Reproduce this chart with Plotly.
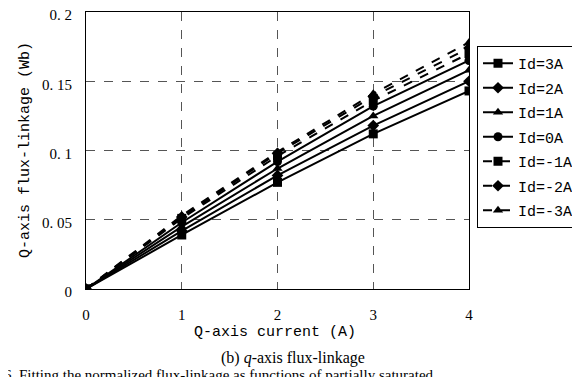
import plotly.graph_objects as go

x_current = [0, 1, 2, 3, 4]
series_names = ["Id=3A", "Id=2A", "Id=1A", "Id=0A", "Id=-1A", "Id=-2A", "Id=-3A"]
psi_3A = [0, 0.039, 0.077, 0.112, 0.143]
psi_2A = [0, 0.042, 0.082, 0.118, 0.150]
psi_1A = [0, 0.045, 0.087, 0.125, 0.158]
psi_0A = [0, 0.048, 0.092, 0.132, 0.165]
psi_m1A = [0, 0.051, 0.096, 0.136, 0.170]
psi_m2A = [0, 0.052, 0.098, 0.139, 0.174]
psi_m3A = [0, 0.053, 0.099, 0.141, 0.178]
series_values = [psi_3A, psi_2A, psi_1A, psi_0A, psi_m1A, psi_m2A, psi_m3A]
symbols = ["square", "diamond", "triangle-up", "circle", "square", "diamond", "triangle-up"]
dashes = ["solid"] * 4 + ["dash"] * 3

x_ticks = [0, 1, 2, 3, 4]
y_ticks = [0, 0.05, 0.1, 0.15, 0.2]
y_tick_labels = ["0", "0. 05", "0. 1", "0. 15", "0. 2"]

fig = go.Figure()
for name, vals, sym, dash in zip(series_names, series_values, symbols, dashes):
    fig.add_trace(go.Scatter(
        x=x_current, y=vals, name=name, mode="lines+markers", legendgroup=name,
        line=dict(color="black", width=2, dash=dash),
        marker=dict(symbol=sym, size=9, color="black"),
    ))

mono = "Liberation Mono"
serif = "Liberation Serif"
OFF = 8  # page body margin
W, H = 580 - OFF, 377 - OFF
L, R, T, B = 86 - OFF, 580 - 469, 12 - OFF, 377 - 289
PW, PH = W - L - R, H - T - B


def px_x(ax):
    return (ax - 86) / PW


def px_y(ay):
    return (289 - ay) / PH


fig.update_layout(
    width=W, height=H,
    margin=dict(l=L, r=R, t=T, b=B, autoexpand=False),
    paper_bgcolor="white", plot_bgcolor="white",
    showlegend=True,
    legend=dict(
        x=px_x(477), y=px_y(46), xanchor="left", yanchor="top",
        bordercolor="black", borderwidth=1, bgcolor="white",
        font=dict(family=mono, size=15, color="black"),
        traceorder="grouped", tracegroupgap=2, itemwidth=30,
    ),
    xaxis=dict(
        range=[0, 4], tickvals=x_ticks, ticks="", showline=True, mirror=True,
        linecolor="black", linewidth=1, showgrid=True, gridcolor="#555",
        griddash="dash", gridwidth=1, zeroline=False, automargin=False,
        ticklabelstandoff=12, ticklabeloverflow="allow",
        tickfont=dict(family=serif, size=15, color="black"),
    ),
    yaxis=dict(
        range=[0, 0.2], tickvals=y_ticks, ticktext=y_tick_labels, ticks="",
        showline=True, mirror=True, linecolor="black", linewidth=1,
        showgrid=True, gridcolor="#555", griddash="dash", gridwidth=1, zeroline=False,
        automargin=False, ticklabelstandoff=10, ticklabeloverflow="allow",
        ticklabelshift=3,
        tickfont=dict(family=serif, size=15, color="black"),
    ),
    annotations=[
        dict(text="Q-axis current (A)", xref="paper", yref="paper",
             x=px_x(275), y=px_y(332), xanchor="center", yanchor="middle",
             showarrow=False, font=dict(family=mono, size=15, color="black")),
        dict(text="Q-axis flux-linkage (Wb)", xref="paper", yref="paper",
             x=px_x(25), y=px_y(150), xanchor="center", yanchor="middle",
             textangle=-90, showarrow=False, font=dict(family=mono, size=15, color="black")),
        dict(text="(b) <i>q</i>-axis flux-linkage", xref="paper", yref="paper",
             x=px_x(293), y=px_y(358), xanchor="center", yanchor="middle",
             showarrow=False, font=dict(family=serif, size=16, color="black")),
        dict(text="6. Fitting the normalized flux-linkage as functions of partially saturated",
             xref="paper", yref="paper", x=px_x(2), y=px_y(375),
             xanchor="left", yanchor="middle", showarrow=False,
             font=dict(family=serif, size=15, color="black")),
    ],
)

fig.write_html("out.html")
